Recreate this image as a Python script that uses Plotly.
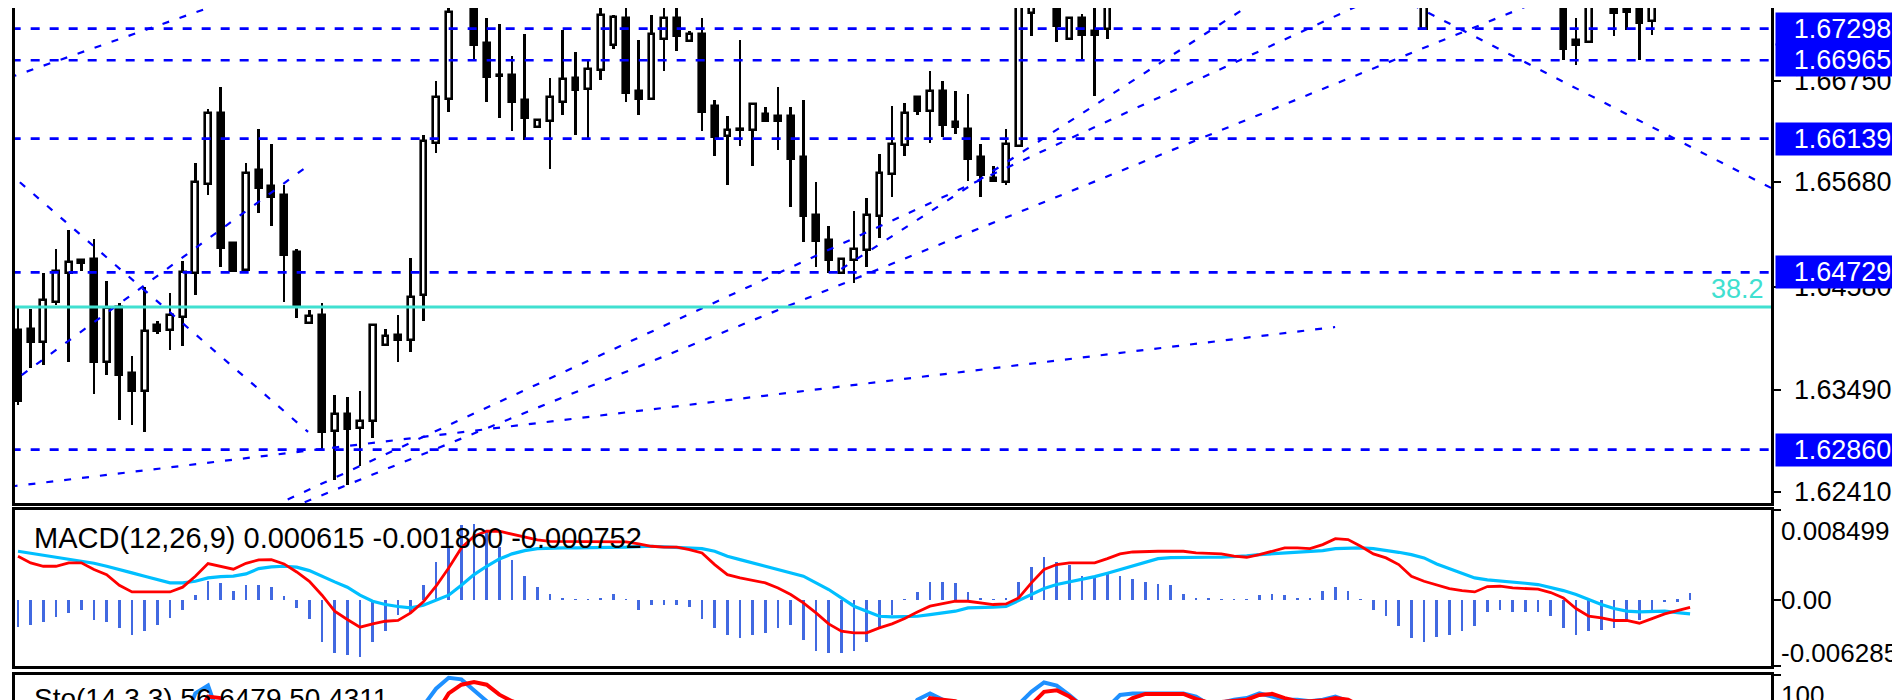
import plotly.graph_objects as go

# ---------------- price data (one entry per bar) ----------------
opens = [1.64125, 1.64135, 1.63991, 1.64417, 1.64723, 1.64863, 1.64873, 1.63784, 1.64360, 1.63668,
 1.63483, 1.64170, 1.64121, 1.64255, 1.64723, 1.65660, 1.66409, 1.65038, 1.64750, 1.65805,
 1.65643, 1.65541, 1.64944, 1.64195, 1.64276, 1.63053, 1.63236, 1.63088, 1.63159, 1.63960,
 1.64072, 1.64020, 1.64494, 1.66092, 1.66560, 1.67600, 1.67650, 1.67147, 1.66813, 1.66813,
 1.66543, 1.66262, 1.66321, 1.66525, 1.66778, 1.66666, 1.66859, 1.67123, 1.67411, 1.66645,
 1.66560, 1.67193, 1.67411, 1.67165, 1.67242, 1.66479, 1.66163, 1.66241, 1.66234, 1.66402,
 1.66374, 1.66374, 1.65942, 1.65337, 1.65074, 1.64723, 1.64863, 1.64961, 1.65320, 1.65766,
 1.66068, 1.66574, 1.66427, 1.66645, 1.66311, 1.66244, 1.65942, 1.65724, 1.65682, 1.66065,
 1.67463, 1.67620, 1.67700, 1.67193, 1.67411, 1.67277, 1.67298, 1.67600, 1.67780, 1.67950,
 1.67880, 1.68080, 1.68220, 1.68120, 1.68250, 1.68420, 1.68350, 1.68300, 1.68400, 1.68550,
 1.68480, 1.68720, 1.68850, 1.68700, 1.68480, 1.68220, 1.68100, 1.67920, 1.68000, 1.67850,
 1.67750, 1.67298, 1.67620, 1.67780, 1.67900, 1.67820, 1.67750, 1.67800, 1.67680, 1.67720,
 1.67650, 1.67700, 1.67650, 1.67175, 1.67154, 1.67580, 1.67680, 1.67650, 1.67600, 1.67375,
 1.67550, 1.67700, 1.67800]
highs = [1.64353, 1.64342, 1.64723, 1.64979, 1.65180, 1.64870, 1.65082, 1.64642, 1.64405, 1.63844,
 1.64575, 1.64213, 1.64512, 1.64845, 1.65882, 1.66451, 1.66680, 1.65050, 1.65882, 1.66244,
 1.66082, 1.65654, 1.64979, 1.64335, 1.64405, 1.63440, 1.63412, 1.63475, 1.64175, 1.64135,
 1.64276, 1.64880, 1.66181, 1.66750, 1.67550, 1.67900, 1.67780, 1.67411, 1.67347, 1.67014,
 1.67245, 1.66340, 1.66778, 1.67280, 1.67049, 1.66972, 1.67530, 1.67446, 1.67530, 1.67182,
 1.67446, 1.67530, 1.67530, 1.67277, 1.67411, 1.66549, 1.66374, 1.67182, 1.66508, 1.66469,
 1.66680, 1.66472, 1.66549, 1.65682, 1.65215, 1.64878, 1.65380, 1.65513, 1.65980, 1.66480,
 1.66514, 1.66578, 1.66848, 1.66750, 1.66645, 1.66610, 1.66082, 1.65847, 1.66244, 1.67700,
 1.67700, 1.67900, 1.67780, 1.67418, 1.67453, 1.67570, 1.67680, 1.67850, 1.68000, 1.68120,
 1.68150, 1.68300, 1.68350, 1.68280, 1.68500, 1.68600, 1.68480, 1.68450, 1.68620, 1.68720,
 1.68800, 1.68950, 1.69000, 1.68820, 1.68580, 1.68350, 1.68200, 1.68080, 1.68120, 1.67950,
 1.67900, 1.67900, 1.67850, 1.67950, 1.68000, 1.67920, 1.67880, 1.67900, 1.67800, 1.67850,
 1.67780, 1.67820, 1.67720, 1.67411, 1.67650, 1.67750, 1.67720, 1.67700, 1.67680, 1.67620,
 1.67750, 1.67850, 1.67900]
lows = [1.63335, 1.63721, 1.63749, 1.64389, 1.63784, 1.64740, 1.63451, 1.63651, 1.63176, 1.63116,
 1.63046, 1.64079, 1.63914, 1.63949, 1.64487, 1.65548, 1.64782, 1.64740, 1.64745, 1.65355,
 1.65215, 1.64417, 1.64248, 1.64190, 1.62871, 1.62543, 1.62484, 1.62685, 1.62983, 1.63955,
 1.63784, 1.63890, 1.64220, 1.65987, 1.66420, 1.67550, 1.66972, 1.66522, 1.66356, 1.66216,
 1.66121, 1.66260, 1.65819, 1.66392, 1.66181, 1.66135, 1.66760, 1.67087, 1.66522, 1.66392,
 1.66555, 1.66855, 1.67059, 1.67160, 1.66223, 1.65952, 1.65654, 1.66058, 1.65854, 1.66325,
 1.66022, 1.65418, 1.65049, 1.64786, 1.64723, 1.64718, 1.64617, 1.64782, 1.65091, 1.65520,
 1.65952, 1.66385, 1.66093, 1.66153, 1.66188, 1.65689, 1.65520, 1.65689, 1.65654, 1.66060,
 1.67217, 1.67560, 1.67154, 1.67188, 1.66972, 1.66585, 1.67189, 1.67570, 1.67700, 1.67820,
 1.67800, 1.67980, 1.68050, 1.68000, 1.68150, 1.68300, 1.68200, 1.68120, 1.68320, 1.68400,
 1.68420, 1.68600, 1.68620, 1.68400, 1.68150, 1.68000, 1.67850, 1.67800, 1.67780, 1.67680,
 1.67620, 1.67290, 1.67570, 1.67700, 1.67750, 1.67680, 1.67650, 1.67620, 1.67580, 1.67600,
 1.67570, 1.67600, 1.66972, 1.66919, 1.67150, 1.67550, 1.67217, 1.67288, 1.66972, 1.67235,
 1.67560, 1.67600, 1.67650]
closes = [1.63370, 1.63991, 1.64435, 1.64740, 1.64835, 1.64828, 1.63784, 1.64353, 1.63651, 1.63483,
 1.64107, 1.64114, 1.64276, 1.64733, 1.65678, 1.66409, 1.64986, 1.64747, 1.65777, 1.65619,
 1.65520, 1.64916, 1.64378, 1.64265, 1.63046, 1.63236, 1.63081, 1.63166, 1.64170, 1.64055,
 1.64020, 1.64474, 1.66110, 1.66574, 1.67474, 1.67780, 1.67123, 1.66785, 1.66796, 1.66522,
 1.66356, 1.66339, 1.66574, 1.66771, 1.66655, 1.66876, 1.67446, 1.67418, 1.66620, 1.66557,
 1.67245, 1.67411, 1.67224, 1.67242, 1.66420, 1.66153, 1.66234, 1.66227, 1.66504, 1.66328,
 1.66328, 1.65924, 1.65320, 1.65056, 1.64856, 1.64873, 1.64979, 1.65337, 1.65777, 1.66082,
 1.66409, 1.66427, 1.66638, 1.66286, 1.66258, 1.65924, 1.65759, 1.65696, 1.66082, 1.67600,
 1.67620, 1.67850, 1.67323, 1.67411, 1.67235, 1.67235, 1.67600, 1.67780, 1.67950, 1.67880,
 1.68080, 1.68220, 1.68120, 1.68250, 1.68420, 1.68350, 1.68300, 1.68400, 1.68550, 1.68480,
 1.68720, 1.68850, 1.68700, 1.68480, 1.68220, 1.68100, 1.67920, 1.68000, 1.67850, 1.67750,
 1.67700, 1.67750, 1.67780, 1.67900, 1.67820, 1.67750, 1.67800, 1.67680, 1.67720, 1.67650,
 1.67700, 1.67650, 1.67087, 1.67130, 1.67580, 1.67680, 1.67463, 1.67474, 1.67358, 1.67550,
 1.67700, 1.67800, 1.67700]

price_ticks = [1.62410, 1.63490, 1.64580, 1.65680, 1.66750]
level_prices = [1.67298, 1.66965, 1.66139, 1.64729, 1.62860]
fib_level = 1.64364
fib_label = "38.2"

# trend lines (bar index, price)
trend_x0 = [-2, -2, -2, -2, 20, 20, 65, 105]
trend_y0 = [1.66720, 1.65928, 1.63423, 1.62449, 1.62256, 1.62164, 1.64765, 1.67898]
trend_x1 = [17, 22.9, 22.66, 103.98, 110, 125, 100, 140]
trend_y1 = [1.67610, 1.63047, 1.65830, 1.64153, 1.67800, 1.67855, 1.67785, 1.65510]

# ---------------- MACD ----------------
macd_hist = [-0.00252, -0.00236, -0.00211, -0.00158, -0.00126, -0.00095, -0.00189, -0.00205, -0.00268, -0.00331,
 -0.00299, -0.00236, -0.00173, -0.00095, 0.00047, 0.0018, 0.00158, 0.00085, 0.00142, 0.00142,
 0.00117, 0.00032, -0.00079, -0.0018, -0.00394, -0.00504, -0.00526, -0.00545, -0.00394, -0.00299,
 -0.00142, -0.00126, 0.00142, 0.00362, 0.00504, 0.00709, 0.00715, 0.00646, 0.00504, 0.00378,
 0.0023, 0.00117, 0.00054, 0.00022, 0.00005, 0.00005, 0.00022, 0.00054, 0.00005, -0.00095,
 -0.00047, -0.00047, -0.00047, -0.00063, -0.0018, -0.00268, -0.00331, -0.00362, -0.00331, -0.00315,
 -0.00268, -0.00236, -0.00378, -0.00482, -0.00504, -0.00504, -0.00488, -0.00394, -0.00252, -0.00142,
 0.00005, 0.00079, 0.00173, 0.00167, 0.00158, 0.00072, 0.00022, 0.00005, 0.00016, 0.00173,
 0.00315, 0.0041, 0.00362, 0.00331, 0.0023, 0.0023, 0.00268, 0.0023, 0.00198, 0.00173,
 0.00148, 0.00142, 0.00054, 0.00022, 0.00016, 0.00004, 0.00004, 0.00004, 0.00047, 0.00054,
 0.00047, 0.00022, 0.00016, 0.00085, 0.00117, 0.00085, 0.00004, -0.00095, -0.00148, -0.00243,
 -0.00362, -0.00394, -0.00356, -0.00331, -0.00293, -0.00243, -0.00117, -0.00095, -0.00117, -0.00117,
 -0.00117, -0.00148, -0.00268, -0.00331, -0.00299, -0.00284, -0.00268, -0.00211, -0.00189, -0.00095,
 -0.00022, -0.00016, 0.00062]
macd_red = [0.0041, 0.00347, 0.00315, 0.00315, 0.00347, 0.00347, 0.00284, 0.00236, 0.00135, 0.00072,
 0.00072, 0.00072, 0.00072, 0.00117, 0.00221, 0.0034, 0.00315, 0.00287, 0.00343, 0.00375,
 0.00378, 0.00337, 0.00261, 0.00173, 0.00041, -0.0011, -0.00189, -0.00261, -0.0023, -0.00205,
 -0.00198, -0.00126, -0.00022, 0.00126, 0.00299, 0.00488, 0.00599, 0.00646, 0.00646, 0.00621,
 0.00589, 0.00564, 0.00551, 0.00551, 0.00551, 0.00551, 0.00551, 0.00551, 0.00545, 0.00526,
 0.00504, 0.00495, 0.00495, 0.00473, 0.00441, 0.00331, 0.00236, 0.00205, 0.0018, 0.00158,
 0.0011, 0.00047, -0.00032, -0.00126, -0.0023, -0.00299, -0.00315, -0.00315, -0.00268, -0.0023,
 -0.0018, -0.00117, -0.00063, -0.00041, -0.00016, -0.00016, -0.00035, -0.00047, -0.00041, 0.00016,
 0.00158, 0.00284, 0.00331, 0.00347, 0.00347, 0.00347, 0.00387, 0.00432, 0.0045, 0.00457,
 0.00457, 0.00457, 0.00457, 0.00441, 0.00438, 0.00432, 0.0041, 0.004, 0.00425, 0.00457,
 0.00488, 0.00488, 0.00482, 0.0052, 0.00576, 0.00567, 0.00504, 0.00432, 0.00394, 0.00331,
 0.00221, 0.00173, 0.00135, 0.00104, 0.00085, 0.00072, 0.00123, 0.00126, 0.0011, 0.00107,
 0.00098, 0.00066, 0.00016, -0.00085, -0.00158, -0.00173, -0.00198, -0.00198, -0.00224, -0.0018,
 -0.00135, -0.00105, -0.00075]
macd_blue = [0.00457, 0.00438, 0.00419, 0.004, 0.00378, 0.00362, 0.00343, 0.00315, 0.00287, 0.00252,
 0.00221, 0.00189, 0.00158, 0.00158, 0.00173, 0.00205, 0.00217, 0.00221, 0.00243, 0.00293,
 0.00309, 0.00315, 0.00306, 0.00274, 0.00217, 0.00167, 0.00117, 0.00041, -0.00016, -0.00047,
 -0.00066, -0.00079, -0.00054, -0.00009, 0.00041, 0.00135, 0.00236, 0.00315, 0.00384, 0.00432,
 0.00463, 0.00482, 0.00488, 0.00488, 0.00488, 0.00488, 0.00488, 0.00488, 0.00495, 0.00501,
 0.00504, 0.00498, 0.00495, 0.00491, 0.00482, 0.00457, 0.0041, 0.00378, 0.00347, 0.00315,
 0.00284, 0.00252, 0.00221, 0.00158, 0.00095, 0.00016, -0.00063, -0.0011, -0.00158, -0.00164,
 -0.00164, -0.00158, -0.00142, -0.00126, -0.0011, -0.00079, -0.00072, -0.00072, -0.00066, -0.00009,
 0.00041, 0.00104, 0.00142, 0.00167, 0.00189, 0.00217, 0.00249, 0.00284, 0.00315, 0.0035,
 0.00387, 0.00397, 0.004, 0.004, 0.004, 0.004, 0.00403, 0.00413, 0.00425, 0.00432,
 0.00438, 0.00447, 0.00457, 0.00463, 0.00482, 0.00488, 0.00488, 0.00482, 0.00466, 0.00447,
 0.00425, 0.00394, 0.00337, 0.00293, 0.00252, 0.00205, 0.00186, 0.00173, 0.00164, 0.00154,
 0.00142, 0.00117, 0.00085, 0.00047, 0.0, -0.00047, -0.00085, -0.0011, -0.00117, -0.00117,
 -0.0011, -0.00123, -0.00136]
macd_ticks = [0.008499, 0.0, -0.006285]
macd_tick_text = ["0.008499", "0.00", "-0.006285"]
macd_title = "MACD(12,26,9) 0.000615 -0.001860 -0.000752"

# ---------------- Stochastic ----------------
sto_main = [40, 35, 55, 60, 65, 62, 30, 45, 25, 20,
 45, 50, 55, 68, 88, 93, 70, 55, 62, 60,
 55, 40, 25, 22, 8, 10, 12, 15, 40, 42,
 40, 55, 80, 91, 98, 97, 90, 83, 76, 72,
 70, 68, 72, 75, 74, 76, 78, 77, 68, 67,
 76, 80, 80, 77, 55, 40, 35, 36, 42, 40,
 38, 28, 15, 8, 6, 10, 14, 25, 40, 55,
 70, 84, 88, 84, 80, 72, 68, 66, 70, 81,
 89, 95, 93, 87, 80, 74, 79, 87, 88, 88,
 88, 88, 88, 86, 81, 82, 84, 85, 88, 86,
 84, 84, 83, 84, 86, 83, 76, 65, 55, 45,
 35, 25, 30, 40, 38, 35, 42, 38, 40, 36,
 40, 37, 20, 18, 30, 40, 45, 48, 40, 46,
 52, 55, 56.65]
sto_signal = [45, 42, 43, 50, 60, 62, 52, 46, 33, 30,
 30, 38, 50, 58, 72, 86, 85, 73, 62, 59,
 59, 52, 40, 29, 18, 13, 10, 12, 22, 32,
 41, 46, 58, 75, 88, 93.6, 95.3, 93.6, 87.2, 83,
 80, 75, 70, 72, 74, 75, 76, 77, 74, 71,
 70, 74, 78, 79, 71, 57, 44, 37, 38, 39,
 40, 35, 27, 17, 10, 8, 10, 16, 26, 40,
 55, 70, 85, 84, 83, 79.7, 73, 69, 68, 72,
 80.8, 89, 90, 86, 80, 76, 77, 80, 85, 87.7,
 87.7, 87.7, 87.7, 84.5, 82, 82.5, 83, 84, 87, 87.7,
 85, 83, 83, 83.4, 85, 84, 79.7, 74, 65, 55,
 45, 35, 30, 32, 36, 38, 38, 38, 40, 38,
 38, 38, 32, 25, 23, 29, 38, 44, 44, 45,
 46, 48, 50.43]
sto_ticks = [100]
sto_title = "Sto(14,3,3) 56.6479 50.4311"

# ---------------- layout constants ----------------
W, H = 1900, 700
XL, XR = 7, 1763
XDOM = [XL / W, XR / W]
XRANGE = [-0.237, 138.39]
FONT = "Liberation Sans"

def py(px):  # pixel row -> paper fraction
    return 1 - px / H

idx = list(range(len(opens)))
fig = go.Figure()

# candle wicks
fig.add_trace(go.Bar(x=idx, y=[h - l for h, l in zip(highs, lows)], base=lows, width=0.21,
                     marker=dict(color="black", line=dict(width=0)),
                     xaxis="x", yaxis="y", hoverinfo="skip"))
# candle bodies
body_base = [min(o, c) for o, c in zip(opens, closes)]
body_h = [max(abs(c - o), 0.00001) for o, c in zip(opens, closes)]
body_col = ["white" if c >= o else "black" for o, c in zip(opens, closes)]
fig.add_trace(go.Bar(x=idx, y=body_h, base=body_base, width=0.45,
                     marker=dict(color=body_col, line=dict(color="black", width=2.6)),
                     xaxis="x", yaxis="y", hoverinfo="skip"))

# MACD
fig.add_trace(go.Bar(x=idx, y=macd_hist, width=0.21, marker=dict(color="#4169E1", line=dict(width=0)),
                     xaxis="x2", yaxis="y2"))
fig.add_trace(go.Scatter(x=idx, y=macd_blue, mode="lines", line=dict(color="#00BFFF", width=3.2),
                         xaxis="x2", yaxis="y2"))
fig.add_trace(go.Scatter(x=idx, y=macd_red, mode="lines", line=dict(color="#FF0000", width=2.8),
                         xaxis="x2", yaxis="y2"))

# Stochastic
fig.add_trace(go.Scatter(x=idx, y=sto_main, mode="lines", line=dict(color="#1E90FF", width=4),
                         xaxis="x3", yaxis="y3"))
fig.add_trace(go.Scatter(x=idx, y=sto_signal, mode="lines", line=dict(color="#FF0000", width=4),
                         xaxis="x3", yaxis="y3"))

shapes = []
for lv in level_prices:
    shapes.append(dict(type="line", xref="x", yref="y", x0=-2, x1=142, y0=lv, y1=lv,
                       line=dict(color="#0000FF", width=2.7, dash="9px,10px")))
for x0, y0, x1, y1 in zip(trend_x0, trend_y0, trend_x1, trend_y1):
    shapes.append(dict(type="line", xref="x", yref="y", x0=x0, y0=y0, x1=x1, y1=y1,
                       line=dict(color="#0000FF", width=2.2, dash="7px,11px")))
shapes.append(dict(type="line", xref="x", yref="y", x0=-2, x1=142, y0=fib_level, y1=fib_level,
                   line=dict(color="#40E0D0", width=3)))

ann = []
# price tick labels
for t in price_ticks:
    ann.append(dict(xref="paper", yref="y", x=1784 / W, y=t, xanchor="left", yanchor="middle",
                    text=f"{t:.5f}", showarrow=False, font=dict(family=FONT, size=27, color="black")))
# blue level boxes
for lv in level_prices:
    ann.append(dict(xref="paper", yref="y", x=1767 / W, y=lv, xanchor="left", yanchor="middle",
                    text=f"{lv:.5f}", showarrow=False, width=133, height=32, borderpad=0,
                    bgcolor="#0000FF", align="center",
                    font=dict(family=FONT, size=27, color="white")))
# fib label
ann.append(dict(xref="paper", yref="y", x=1758 / W, y=fib_level, xanchor="right", yanchor="bottom",
                yshift=1, text=fib_label, showarrow=False, font=dict(family=FONT, size=27, color="#40E0D0")))
# MACD labels
macd_label_rows = [523.3, 591.7, 645.0]
for txt, row in zip(macd_tick_text, macd_label_rows):
    ann.append(dict(xref="paper", yref="paper", x=1771 / W, y=py(row), xanchor="left", yanchor="middle",
                    text=txt, showarrow=False, font=dict(family=FONT, size=26, color="black")))
ann.append(dict(xref="paper", yref="paper", x=24 / W, y=py(530), xanchor="left", yanchor="middle",
                text=macd_title, showarrow=False, font=dict(family=FONT, size=29, color="black")))
# Stoch labels
ann.append(dict(xref="paper", yref="paper", x=1771 / W, y=py(686.7), xanchor="left", yanchor="middle",
                text=str(sto_ticks[0]), showarrow=False, font=dict(family=FONT, size=26, color="black")))
ann.append(dict(xref="paper", yref="paper", x=24 / W, y=py(690), xanchor="left", yanchor="middle",
                text=sto_title, showarrow=False, font=dict(family=FONT, size=28, color="black")))

axis_common = dict(showgrid=False, zeroline=False, linecolor="black", linewidth=3)

fig.update_layout(
    width=W, height=H, margin=dict(l=0, r=0, t=0, b=0),
    paper_bgcolor="white", plot_bgcolor="white",
    showlegend=False, barmode="overlay", bargap=0,
    xaxis=dict(domain=XDOM, range=XRANGE, anchor="y", showticklabels=False, ticks="",
               showline=True, mirror=False, **axis_common),
    yaxis=dict(domain=[py(495), 1.0], range=[1.62298, 1.67516], side="right", anchor="x",
               showline=True, mirror=True, ticks="outside", ticklen=7, tickwidth=2, tickcolor="black",
               tickvals=price_ticks, showticklabels=False, **axis_common),
    xaxis2=dict(domain=XDOM, range=XRANGE, anchor="y2", showticklabels=False, ticks="",
                showline=True, mirror=True, **axis_common),
    yaxis2=dict(domain=[py(658), py(501.7)], range=[macd_ticks[2], macd_ticks[0]], side="right",
                anchor="x2", showline=True, mirror=True, ticks="outside", ticklen=7, tickwidth=2,
                tickcolor="black", tickvals=macd_ticks, showticklabels=False, **axis_common),
    xaxis3=dict(domain=XDOM, range=XRANGE, anchor="y3", side="top", showticklabels=False, ticks="",
                showline=True, mirror=False, **axis_common),
    yaxis3=dict(domain=[0, py(666.7)], range=[78.65, 100], side="right", anchor="x3",
                showline=True, mirror=True, ticks="outside", ticklen=7, tickwidth=2, tickcolor="black",
                tickvals=sto_ticks, showticklabels=False, **axis_common),
    shapes=shapes, annotations=ann,
)

fig.write_html("out.html", config={"displayModeBar": False})
